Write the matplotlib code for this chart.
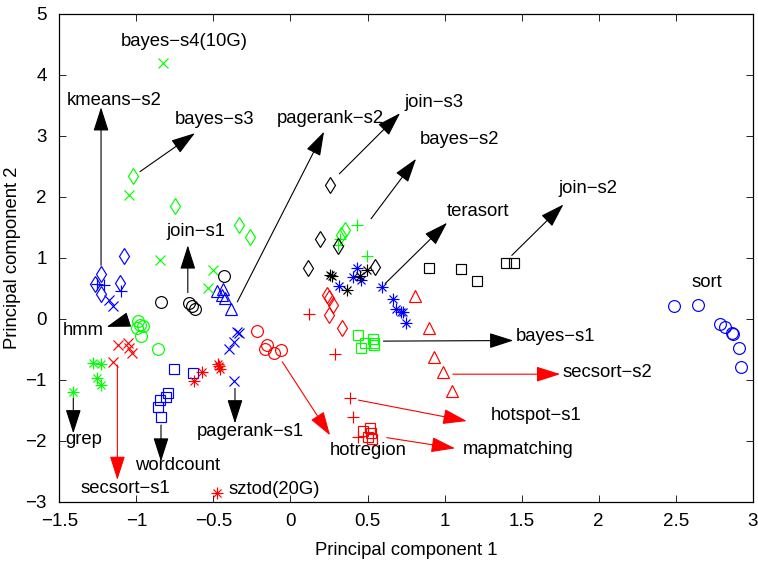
import matplotlib
matplotlib.use("Agg")
import matplotlib.pyplot as plt

plt.rcParams['font.family'] = ['Liberation Sans', 'DejaVu Sans']
plt.rcParams['axes.unicode_minus'] = True

M = '\u2212'

# ---------------- data (PC1, PC2) ----------------
blue_o_x = [2.491, 2.643, 2.79, 2.82, 2.864, 2.87, 2.907, 2.922]
blue_o_y = [0.20, 0.23, -0.09, -0.14, -0.23, -0.26, -0.49, -0.80]
blue_d_x = [-1.229, -1.268, -1.229, -1.078, -1.104]
blue_d_y = [0.736, 0.56, 0.41, 1.026, 0.589]
blue_p_x = [-1.257, -1.21, -1.099]
blue_p_y = [0.573, 0.545, 0.447]
blue_x_x = [-1.18, -1.149, -0.345, -0.332, -0.364, -0.396, -0.366]
blue_x_y = [0.30, 0.208, -0.22, -0.23, -0.38, -0.50, -1.02]
blue_t_x = [-0.478, -0.435, -0.446, -0.424, -0.385]
blue_t_y = [0.45, 0.49, 0.38, 0.33, 0.15]
blue_s_x = [-0.753, -0.63, -0.792, -0.807, -0.846, -0.861, -0.84]
blue_s_y = [-0.83, -0.90, -1.22, -1.29, -1.34, -1.45, -1.61]
blue_st_x = [0.43, 0.404, 0.456, 0.315, 0.592, 0.668, 0.685, 0.716, 0.729, 0.75]
blue_st_y = [0.83, 0.68, 0.63, 0.53, 0.52, 0.32, 0.15, 0.11, 0.10, -0.07]

green_x_x = [-0.825, -1.047, -0.846, -0.504, -0.537]
green_x_y = [4.19, 2.02, 0.966, 0.79, 0.50]
green_d_x = [-1.024, -0.749, -0.334, -0.262, 0.354, 0.33]
green_d_y = [2.345, 1.845, 1.53, 1.34, 1.445, 1.37]
green_p_x = [0.43, 0.322, 0.311, 0.499]
green_p_y = [1.53, 1.31, 1.21, 1.03]
green_o_x = [-0.991, -0.976, -0.955, -0.997, -0.97, -0.862]
green_o_y = [-0.04, -0.11, -0.12, -0.16, -0.28, -0.50]
green_st_x = [-1.283, -1.229, -1.257, -1.231, -1.409]
green_st_y = [-0.73, -0.75, -0.98, -1.09, -1.20]
green_s_x = [0.441, 0.538, 0.545, 0.484, 0.456, 0.545]
green_s_y = [-0.27, -0.33, -0.40, -0.40, -0.48, -0.44]

red_x_x = [-1.121, -1.056, -1.047, -1.026, -1.149]
red_x_y = [-0.43, -0.40, -0.49, -0.57, -0.71]
red_st_x = [-0.624, -0.576, -0.472, -0.457, -0.463, -0.478]
red_st_y = [-1.03, -0.88, -0.74, -0.82, -0.77, -2.86]
red_o_x = [-0.219, -0.15, -0.165, -0.104, -0.061]
red_o_y = [-0.20, -0.44, -0.50, -0.57, -0.52]
red_p_x = [0.123, 0.289, 0.387, 0.404, 0.441]
red_p_y = [0.07, -0.58, -1.30, -1.62, -1.94]
red_d_x = [0.239, 0.25, 0.278, 0.252, 0.337]
red_d_y = [0.38, 0.33, 0.22, 0.065, -0.15]
red_t_x = [0.809, 0.897, 0.934, 0.987, 1.047]
red_t_y = [0.37, -0.15, -0.63, -0.87, -1.18]
red_s_x = [0.469, 0.517, 0.506, 0.528, 0.52]
red_s_y = [-1.84, -1.80, -1.94, -1.98, -1.87]

black_o_x = [-0.84, -0.66, -0.637, -0.619, -0.431]
black_o_y = [0.27, 0.25, 0.208, 0.159, 0.70]
black_d_x = [0.257, 0.192, 0.311, 0.116, 0.549]
black_d_y = [2.19, 1.31, 1.19, 0.83, 0.85]
black_st_x = [0.257, 0.27, 0.365, 0.452, 0.499]
black_st_y = [0.71, 0.70, 0.475, 0.70, 0.79]
black_s_x = [0.90, 1.107, 1.213, 1.40, 1.453]
black_s_y = [0.835, 0.82, 0.61, 0.91, 0.91]

# annotations: label, label anchor (left, middle), arrow tail, arrow tip, colour
labels = ['kmeans' + M + 's2', 'bayes' + M + 's3', 'pagerank' + M + 's2', 'join' + M + 's3',
          'bayes' + M + 's2', 'terasort', 'join' + M + 's2', 'join' + M + 's1', 'hmm',
          'bayes' + M + 's1', 'secsort' + M + 's2', 'hotspot' + M + 's1', 'mapmatching',
          'hotregion', 'pagerank' + M + 's1', 'wordcount', 'grep', 'secsort' + M + 's1']
label_x = [-1.452, -0.748, -0.089, 0.737, 0.841, 1.016, 1.737, -0.803, -1.476,
           1.464, 1.762, 1.302, 1.12, 0.257, -0.606, -1.008, -1.463, -1.365]
label_y = [3.573, 3.27, 3.285, 3.535, 2.93, 1.75, 2.13, 1.42, -0.19,
           -0.295, -0.884, -1.588, -2.144, -2.16, -1.85, -2.41, -1.99, -2.78]
tail_x = [-1.229, -0.976, -0.345, 0.317, 0.523, 0.614, 1.436, -0.666, -1.062,
          0.603, 1.053, 0.441, 0.625, -0.053, -0.36, -0.84, -1.409, -1.123]
tail_y = [0.872, 2.41, 0.273, 2.373, 1.637, 0.573, 1.036, 0.426, -0.028,
          -0.37, -0.912, -1.337, -1.953, -0.709, -1.146, -1.746, -1.309, -0.764]
tip_x = [-1.229, -0.62, 0.218, 0.711, 0.815, 1.016, 1.771, -0.666, -1.192,
         1.446, 1.75, 1.144, 1.068, 0.257, -0.36, -0.84, -1.409, -1.123]
tip_y = [3.465, 3.04, 3.065, 3.367, 2.62, 1.571, 1.871, 1.20, -0.136,
         -0.36, -0.912, -1.681, -2.128, -1.915, -1.719, -2.345, -1.882, -2.646]
arrow_red = [False, False, False, False, False, False, False, False, False,
             False, True, True, True, True, False, False, False, True]

plain_labels = ['bayes' + M + 's4(10G)', 'sort', 'sztod(20G)']
plain_x = [-1.10, 2.60, -0.403]
plain_y = [4.55, 0.59, -2.81]

# ---------------- plot ----------------
fig = plt.figure(figsize=(7.58, 5.64), dpi=100)
ax = fig.add_axes([0.0782, 0.1108, 0.915, 0.865])

mew = 0.85
ms = {'o': 8.5, 'd': 8.5, '+': 8.5, 'x': 6.5, '^': 9, 's': 7.5, '*': 8.5}
groups = [
    (blue_o_x, blue_o_y, 'b', 'o'), (blue_d_x, blue_d_y, 'b', 'd'),
    (blue_p_x, blue_p_y, 'b', '+'), (blue_x_x, blue_x_y, 'b', 'x'),
    (blue_t_x, blue_t_y, 'b', '^'), (blue_s_x, blue_s_y, 'b', 's'),
    (blue_st_x, blue_st_y, 'b', '*'),
    (green_x_x, green_x_y, '#00ff00', 'x'), (green_d_x, green_d_y, '#00ff00', 'd'),
    (green_p_x, green_p_y, '#00ff00', '+'), (green_o_x, green_o_y, '#00ff00', 'o'),
    (green_st_x, green_st_y, '#00ff00', '*'), (green_s_x, green_s_y, '#00ff00', 's'),
    (red_x_x, red_x_y, 'r', 'x'), (red_st_x, red_st_y, 'r', '*'),
    (red_o_x, red_o_y, 'r', 'o'), (red_p_x, red_p_y, 'r', '+'),
    (red_d_x, red_d_y, 'r', 'd'), (red_t_x, red_t_y, 'r', '^'),
    (red_s_x, red_s_y, 'r', 's'),
    (black_o_x, black_o_y, 'k', 'o'), (black_d_x, black_d_y, 'k', 'd'),
    (black_st_x, black_st_y, 'k', '*'), (black_s_x, black_s_y, 'k', 's'),
]
for gx, gy, c, m in groups:
    if m == '*':
        # MATLAB style asterisk: + and x overlaid
        ax.plot(gx, gy, linestyle='none', marker='+', ms=ms[m], mew=mew, color=c)
        ax.plot(gx, gy, linestyle='none', marker='x', ms=ms[m] * 0.72, mew=mew, color=c)
    else:
        ax.plot(gx, gy, linestyle='none', marker=m, ms=ms[m], mew=mew,
                markerfacecolor='none', markeredgecolor=c)

fs = 13.3
for lab, lx, ly, tx, ty, hx, hy, red in zip(labels, label_x, label_y, tail_x, tail_y,
                                          tip_x, tip_y, arrow_red):
    col = 'r' if red else 'k'
    ax.annotate('', xy=(hx, hy), xytext=(tx, ty),
                arrowprops=dict(arrowstyle='-|>,head_length=0.75,head_width=0.24',
                                color=col, lw=0.8, mutation_scale=20,
                                shrinkA=0, shrinkB=0))
    ax.text(lx, ly, lab, fontsize=fs, ha='left', va='center')

for lab, lx, ly in zip(plain_labels, plain_x, plain_y):
    ax.text(lx, ly, lab, fontsize=fs, ha='left', va='center')

ax.set_xlim(-1.5, 3)
ax.set_ylim(-3, 5)
ax.set_xticks([-1.5, -1, -0.5, 0, 0.5, 1, 1.5, 2, 2.5, 3])
ax.set_xticklabels([M + '1.5', M + '1', M + '0.5', '0', '0.5', '1', '1.5', '2', '2.5', '3'])
ax.set_yticks([-3, -2, -1, 0, 1, 2, 3, 4, 5])
ax.set_yticklabels([M + '3', M + '2', M + '1', '0', '1', '2', '3', '4', '5'])
ax.tick_params(direction='in', top=True, right=True, length=5, width=0.6,
               labelsize=13.5)
ax.tick_params(axis='x', pad=8)
ax.tick_params(axis='y', pad=9)
for sp in ax.spines.values():
    sp.set_linewidth(0.9)
ax.set_xlabel('Principal component 1', fontsize=13.3, labelpad=9)
ax.set_ylabel('Principal component 2', fontsize=13.3, labelpad=3)

fig.savefig('out.png', dpi=100)
